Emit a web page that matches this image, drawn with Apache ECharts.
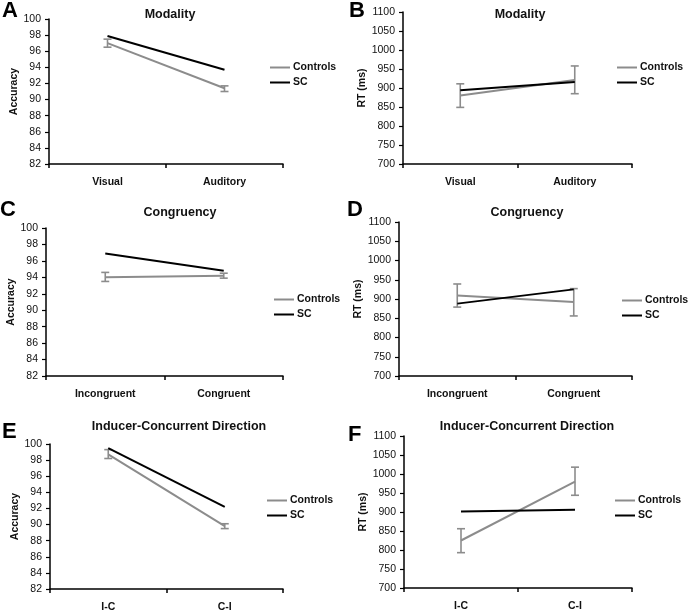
<!DOCTYPE html>
<html>
<head>
<meta charset="utf-8">
<script src="https://cdn.jsdelivr.net/npm/echarts@6/dist/echarts.min.js"></script>
<style>
html,body{margin:0;padding:0;background:#fff;}
#c{width:692px;height:613px;}
</style>
</head>
<body>
<div id="c"></div>
<script>
// ---- Data ----
const catModality = ['Visual', 'Auditory'];
const catCongruency = ['Incongruent', 'Congruent'];
const catDirection = ['I-C', 'C-I'];

const accTicks = [82, 84, 86, 88, 90, 92, 94, 96, 98, 100];
const rtTicks = [700, 750, 800, 850, 900, 950, 1000, 1050, 1100];

const accModControls = [97.0, 91.4];
const accModControlsLow = [96.5, 91.0];
const accModControlsHigh = [97.5, 91.7];
const accModSC = [97.9, 93.7];

const rtModControls = [880, 921];
const rtModControlsLow = [849, 885];
const rtModControlsHigh = [911, 958];
const rtModSC = [894, 916];

const accCongControls = [94.0, 94.2];
const accCongControlsLow = [93.5, 93.9];
const accCongControlsHigh = [94.6, 94.5];
const accCongSC = [96.9, 94.8];

const rtCongControls = [909, 892];
const rtCongControlsLow = [879, 856];
const rtCongControlsHigh = [939, 927];
const rtCongSC = [888, 925];

const accDirControls = [98.7, 89.8];
const accDirControlsLow = [98.2, 89.5];
const accDirControlsHigh = [99.3, 90.1];
const accDirSC = [99.5, 92.2];

const rtDirControls = [825, 980];
const rtDirControlsLow = [793, 944];
const rtDirControlsHigh = [856, 1018];
const rtDirSC = [901, 906];

const panelTitles = ['Modality', 'Modality', 'Congruency', 'Congruency', 'Inducer-Concurrent Direction', 'Inducer-Concurrent Direction'];
const panelLetters = ['A', 'B', 'C', 'D', 'E', 'F'];
const yNames = ['Accuracy', 'RT (ms)', 'Accuracy', 'RT (ms)', 'Accuracy', 'RT (ms)'];

// ---- Layout / style ----
const FONT = '"Liberation Sans", Arial, Helvetica, sans-serif';
const GRAY = '#8c8c8c';
const BLACK = '#000000';

const panels = [
  {cats: catModality, ticks: accTicks, ctrl: accModControls, lo: accModControlsLow, hi: accModControlsHigh, sc: accModSC,
   grid: {left: 49, top: 19, width: 234, height: 145}, title: [170, 15], letter: [2, 11], legend: [265, 57]},
  {cats: catModality, ticks: rtTicks, ctrl: rtModControls, lo: rtModControlsLow, hi: rtModControlsHigh, sc: rtModSC,
   grid: {left: 403, top: 12, width: 229, height: 152}, title: [520, 15], letter: [349, 11], legend: [612, 57]},
  {cats: catCongruency, ticks: accTicks, ctrl: accCongControls, lo: accCongControlsLow, hi: accCongControlsHigh, sc: accCongSC,
   grid: {left: 46, top: 228, width: 237, height: 148}, title: [180, 213], letter: [0, 210], legend: [269, 289]},
  {cats: catCongruency, ticks: rtTicks, ctrl: rtCongControls, lo: rtCongControlsLow, hi: rtCongControlsHigh, sc: rtCongSC,
   grid: {left: 399, top: 222, width: 233, height: 154}, title: [527, 213], letter: [347, 210], legend: [617, 290]},
  {cats: catDirection, ticks: accTicks, ctrl: accDirControls, lo: accDirControlsLow, hi: accDirControlsHigh, sc: accDirSC,
   grid: {left: 50, top: 444, width: 233, height: 146}, title: [179, 427], letter: [2, 432], legend: [262, 490]},
  {cats: catDirection, ticks: rtTicks, ctrl: rtDirControls, lo: rtDirControlsLow, hi: rtDirControlsHigh, sc: rtDirSC,
   grid: {left: 404, top: 436, width: 228, height: 152}, title: [527, 427], letter: [348, 435], legend: [610, 490]}
];

function errRender(params, api) {
  const x = api.value(0), lo = api.value(1), hi = api.value(2);
  const a = api.coord([x, lo]), b = api.coord([x, hi]);
  const w = 4;
  const st = {stroke: GRAY, lineWidth: 1.6};
  return {type: 'group', children: [
    {type: 'line', shape: {x1: a[0], y1: a[1], x2: b[0], y2: b[1]}, style: st},
    {type: 'line', shape: {x1: a[0] - w, y1: a[1], x2: a[0] + w, y2: a[1]}, style: st},
    {type: 'line', shape: {x1: b[0] - w, y1: b[1], x2: b[0] + w, y2: b[1]}, style: st}
  ]};
}

const grid = [], xAxis = [], yAxis = [], series = [], legend = [], graphic = [];
panels.forEach((p, i) => {
  grid.push(p.grid);
  const tmin = p.ticks[0], tmax = p.ticks[p.ticks.length - 1], step = p.ticks[1] - p.ticks[0];
  xAxis.push({
    type: 'category', gridIndex: i, data: p.cats, boundaryGap: true,
    axisLine: {show: true, lineStyle: {color: BLACK, width: 1.5}},
    axisTick: {show: true, length: 4, inside: false, lineStyle: {color: BLACK, width: 1.5}},
    axisLabel: {fontFamily: FONT, fontSize: 10.5, fontWeight: 'bold', color: '#111', margin: 13},
    splitLine: {show: false}
  });
  yAxis.push({
    type: 'value', gridIndex: i, min: tmin, max: tmax, interval: step,
    name: yNames[i], nameLocation: 'middle', nameGap: 28,
    nameTextStyle: {fontFamily: FONT, fontSize: 10.5, fontWeight: 'bold', color: '#111'},
    axisLine: {show: true, lineStyle: {color: BLACK, width: 1.5}},
    axisTick: {show: true, length: 4, lineStyle: {color: BLACK, width: 1.2}},
    axisLabel: {fontFamily: FONT, fontSize: 10.5, color: '#111', margin: 8, formatter: v => String(v)},
    splitLine: {show: false}
  });
  series.push({
    name: 'Controls', type: 'line', xAxisIndex: i, yAxisIndex: i, data: p.ctrl,
    symbol: 'none', color: GRAY, lineStyle: {color: GRAY, width: 2}, z: 2
  });
  series.push({
    name: 'Controls error', type: 'custom', xAxisIndex: i, yAxisIndex: i,
    data: p.cats.map((c, k) => [k, p.lo[k], p.hi[k]]),
    encode: {x: 0, y: [1, 2]}, renderItem: errRender, z: 3
  });
  series.push({
    name: 'SC', type: 'line', xAxisIndex: i, yAxisIndex: i, data: p.sc,
    symbol: 'none', color: BLACK, lineStyle: {color: BLACK, width: 2}, z: 4
  });
  legend.push({
    data: ['Controls', 'SC'], orient: 'vertical', left: p.legend[0], top: p.legend[1],
    icon: 'rect', itemWidth: 20, itemHeight: 2, itemGap: 4,
    textStyle: {fontFamily: FONT, fontSize: 10.5, fontWeight: 'bold', color: '#111', padding: [0, 0, 0, -2]}
  });
  graphic.push({
    type: 'text', x: p.title[0], y: p.title[1],
    style: {text: panelTitles[i], fontFamily: FONT, fontSize: 12.5, fontWeight: 'bold', fill: '#111',
            textAlign: 'center', textVerticalAlign: 'middle'}
  });
  graphic.push({
    type: 'text', x: p.letter[0], y: p.letter[1],
    style: {text: panelLetters[i], fontFamily: FONT, fontSize: 22, fontWeight: 'bold', fill: '#000',
            textAlign: 'left', textVerticalAlign: 'middle'}
  });
});

const chart = echarts.init(document.getElementById('c'), null, {renderer: 'canvas'});
chart.setOption({
  animation: false,
  backgroundColor: '#fff',
  grid, xAxis, yAxis, series, legend, graphic
});
</script>
</body>
</html>
